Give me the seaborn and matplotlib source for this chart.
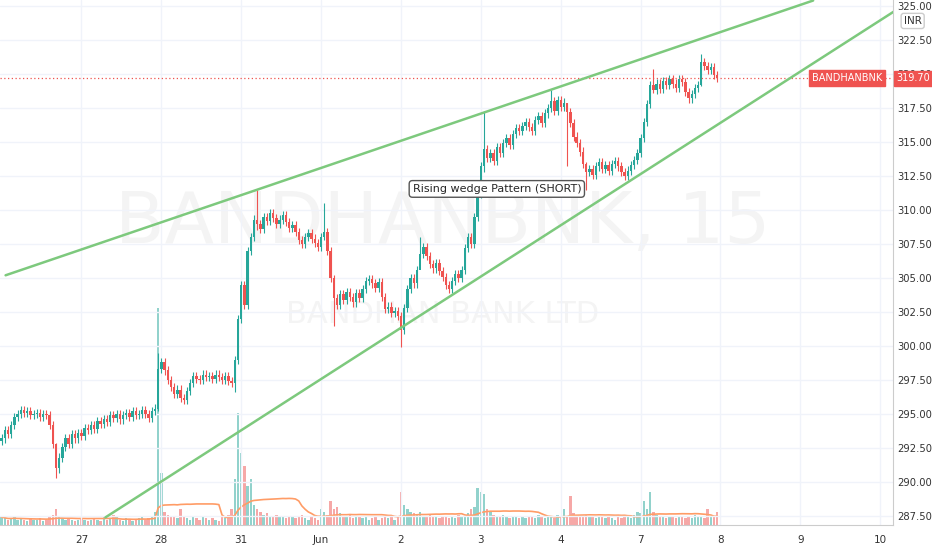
import numpy as np
import pandas as pd
import matplotlib
matplotlib.use("Agg")
import matplotlib.pyplot as plt
import seaborn as sns

# ---- data (15-min closes, 25 bars per session) ----
closes = [
 293.2,293.8,293.5,294.2,294.8,295.0,295.3,295.1,295.2,294.9,295.0,295.1,294.8,295.0,294.9,294.2,292.8,291.0,291.8,292.6,293.2,292.8,293.5,293.2,293.6,
 293.4,294.0,293.8,294.2,293.9,294.5,294.3,294.6,294.4,294.9,294.7,295.0,294.6,294.9,295.1,294.8,295.2,294.9,295.0,295.3,295.0,294.7,295.2,295.4,298.3,
 298.8,298.2,297.5,297.0,296.5,296.8,296.2,296.0,296.7,297.3,297.8,297.6,297.5,297.9,297.7,297.8,297.6,297.9,297.7,297.5,297.8,297.4,297.3,299.0,302.0,
 304.5,303.0,307.0,308.0,309.3,309.0,308.6,309.5,309.2,309.8,309.4,309.0,309.3,309.6,309.1,308.7,308.9,308.4,307.8,307.5,308.0,308.3,307.9,307.6,307.3,
 308.0,308.4,307.0,305.0,303.5,303.0,303.8,303.4,304.0,303.6,303.2,303.9,303.5,304.2,304.8,304.9,304.6,304.3,304.7,303.6,302.7,302.9,302.4,302.6,302.2,
 301.2,302.8,304.2,305.0,304.6,305.6,306.8,307.3,306.6,306.0,305.7,306.1,305.5,305.1,304.5,304.2,304.8,305.3,305.0,305.6,307.2,308.0,307.5,309.5,311.2,
 313.2,314.5,313.8,314.2,313.6,314.6,314.2,314.9,315.3,314.8,315.6,316.0,315.8,316.2,316.5,316.1,315.8,316.6,316.9,316.4,317.1,317.5,318.0,317.3,318.1,
 317.6,317.9,317.2,316.4,315.4,314.9,314.3,313.4,312.8,313.0,312.6,313.2,313.5,313.0,313.3,312.9,313.4,313.6,313.2,312.8,312.5,312.9,313.3,313.7,314.2,
 315.3,316.5,317.8,319.2,318.8,319.3,318.9,319.5,319.2,319.6,319.3,319.0,319.6,319.4,318.7,318.2,318.5,319.0,319.2,320.9,320.6,320.3,320.5,319.9,319.7,
]
first_open = 293.0
wick_overrides = {17: (292.9, 290.3), 49: (299.5, 295.2), 73: (299.3, 296.6), 80: (311.5, 308.5),
                  101: (310.5, 307.8), 104: (305.2, 301.5), 125: (302.5, 299.9), 131: (308.0, 306.5),
                  151: (317.3, 312.8), 172: (318.8, 317.2), 177: (317.9, 313.2), 183: (313.5, 311.5),
                  204: (320.4, 318.6), 219: (321.5, 319.1)}
volumes = [
 6,5,4,5,6,4,5,4,3,5,4,4,5,3,4,6,8,12,7,5,4,5,4,3,4,
 5,4,3,4,5,4,3,6,4,5,8,6,4,3,5,4,3,4,5,6,4,5,7,10,165,
 40,10,8,6,7,5,12,6,5,4,7,5,4,6,5,4,5,4,3,6,5,8,12,35,85,
 55,45,30,35,15,12,10,8,9,7,6,8,7,6,5,7,6,5,6,8,5,4,6,5,4,
 12,10,8,18,12,14,9,7,6,8,5,6,7,5,6,4,5,6,4,5,6,5,7,4,6,
 25,15,12,10,9,8,10,7,6,8,7,6,5,6,7,5,6,5,8,7,6,9,12,14,28,
 25,24,12,10,8,7,6,8,6,5,7,6,5,6,5,7,6,5,8,6,5,7,6,5,8,
 6,12,7,22,9,8,7,6,8,7,6,5,7,6,5,6,5,4,6,5,7,6,5,8,10,
 9,18,12,25,10,8,7,6,5,7,6,5,6,7,5,6,5,8,7,6,5,12,6,7,10,
]
day_labels = ["27", "28", "31", "Jun", "2", "3", "4", "7", "8", "9", "10"]
bars_per_day = 25
upper_line = ((1.25, 305.2), (254.0, 325.4))
lower_line = ((32.5, 287.4), (280.0, 324.7))
last_price = 319.70
symbol = "BANDHANBNK"

# ---- build frame ----
n = len(closes)
opens = [first_open] + closes[:-1]
highs, lows = [], []
for i in range(n):
    hi, lo = max(opens[i], closes[i]) + 0.3, min(opens[i], closes[i]) - 0.3
    if i in wick_overrides:
        hi, lo = wick_overrides[i]
    highs.append(hi); lows.append(lo)
df = pd.DataFrame({"bar": np.arange(n), "open": opens, "close": closes,
                   "high": highs, "low": lows, "volume": volumes})
df["up"] = df["close"] >= df["open"]
df["vma"] = df["volume"].rolling(20, min_periods=1).mean()

UP, DN = "#26a69a", "#ef5350"
sns.set_style("white")
plt.rcParams["font.family"] = ["DejaVu Sans"]

fig = plt.figure(figsize=(9.32, 5.5), dpi=100)
ax = fig.add_axes([0, 25/550, 893/932, 525/550])
axv = ax.twinx()
axv.set_ylim(0, 400)
axv.set_axis_off()
ax.set_zorder(axv.get_zorder() + 1)
ax.patch.set_visible(False)

colors = np.where(df["up"], UP, DN)
axv.bar(df["bar"], df["volume"], width=0.75, color=colors, alpha=0.5, linewidth=0)
sns.lineplot(data=df, x="bar", y="vma", ax=axv, color="#ff9c66", lw=1.2, legend=False)

ax.vlines(df["bar"], df["low"], df["high"], colors=colors, lw=0.8)
ax.bar(df["bar"], (df["close"] - df["open"]).abs().clip(lower=0.08),
       bottom=np.minimum(df["open"], df["close"]), width=0.75, color=colors, linewidth=0)

for (x0, y0), (x1, y1) in (upper_line, lower_line):
    ax.plot([x0, x1], [y0, y1], color="#7dc97d", lw=1.8, zorder=5)

ax.axhline(last_price, color=DN, lw=0.9, ls=(0, (1, 2)))

ax.set_xlim(-0.5, 279)
ax.set_ylim(286.84, 325.44)
ax.yaxis.tick_right()
yt = np.arange(287.5, 325.01, 2.5)
ax.set_yticks(yt)
ax.set_yticklabels([f"{v:.2f}" for v in yt], fontsize=7.2, color="#333")
xt = [bars_per_day * (k + 1) for k in range(len(day_labels))]
ax.set_xticks(xt)
ax.set_xticklabels(day_labels, fontsize=7.5, color="#333")
ax.tick_params(axis="y", length=0, pad=3)
ax.tick_params(axis="x", length=0, pad=7)
ax.grid(True, color="#f0f3fa", lw=1)
for s in ["top", "left"]:
    ax.spines[s].set_visible(False)
ax.spines["right"].set_color("#ccc"); ax.spines["bottom"].set_color("#ccc")
axv.grid(False)

ax.text(138, 309.0, "BANDHANBNK, 15", fontsize=52, color="#f4f4f4", ha="center", va="center", zorder=0)
ax.text(138, 302.3, "BANDHAN BANK LTD", fontsize=22, color="#f4f4f4", ha="center", va="center", zorder=0)
ax.text(155, 311.55, "Rising wedge Pattern (SHORT)", fontsize=8, ha="center", va="center", zorder=8,
        bbox=dict(boxstyle="round,pad=0.3", fc="white", ec="#555", lw=1))

ax.text(1.004, last_price, f"{last_price:.2f}", transform=ax.get_yaxis_transform(), ha="left", va="center",
        fontsize=7, color="white", bbox=dict(boxstyle="square,pad=0.25", fc=DN, ec=DN), clip_on=False, zorder=10)
ax.text(0.988, last_price, symbol, transform=ax.get_yaxis_transform(), ha="right", va="center",
        fontsize=7, color="white", bbox=dict(boxstyle="square,pad=0.3", fc=DN, ec=DN), clip_on=False, zorder=10)
ax.text(1.012, 323.9, "INR", transform=ax.get_yaxis_transform(), ha="left", va="center", fontsize=7.5,
        color="#333", bbox=dict(boxstyle="round,pad=0.25", fc="white", ec="#ccc"), clip_on=False, zorder=10)

fig.savefig("out.png", dpi=100)
